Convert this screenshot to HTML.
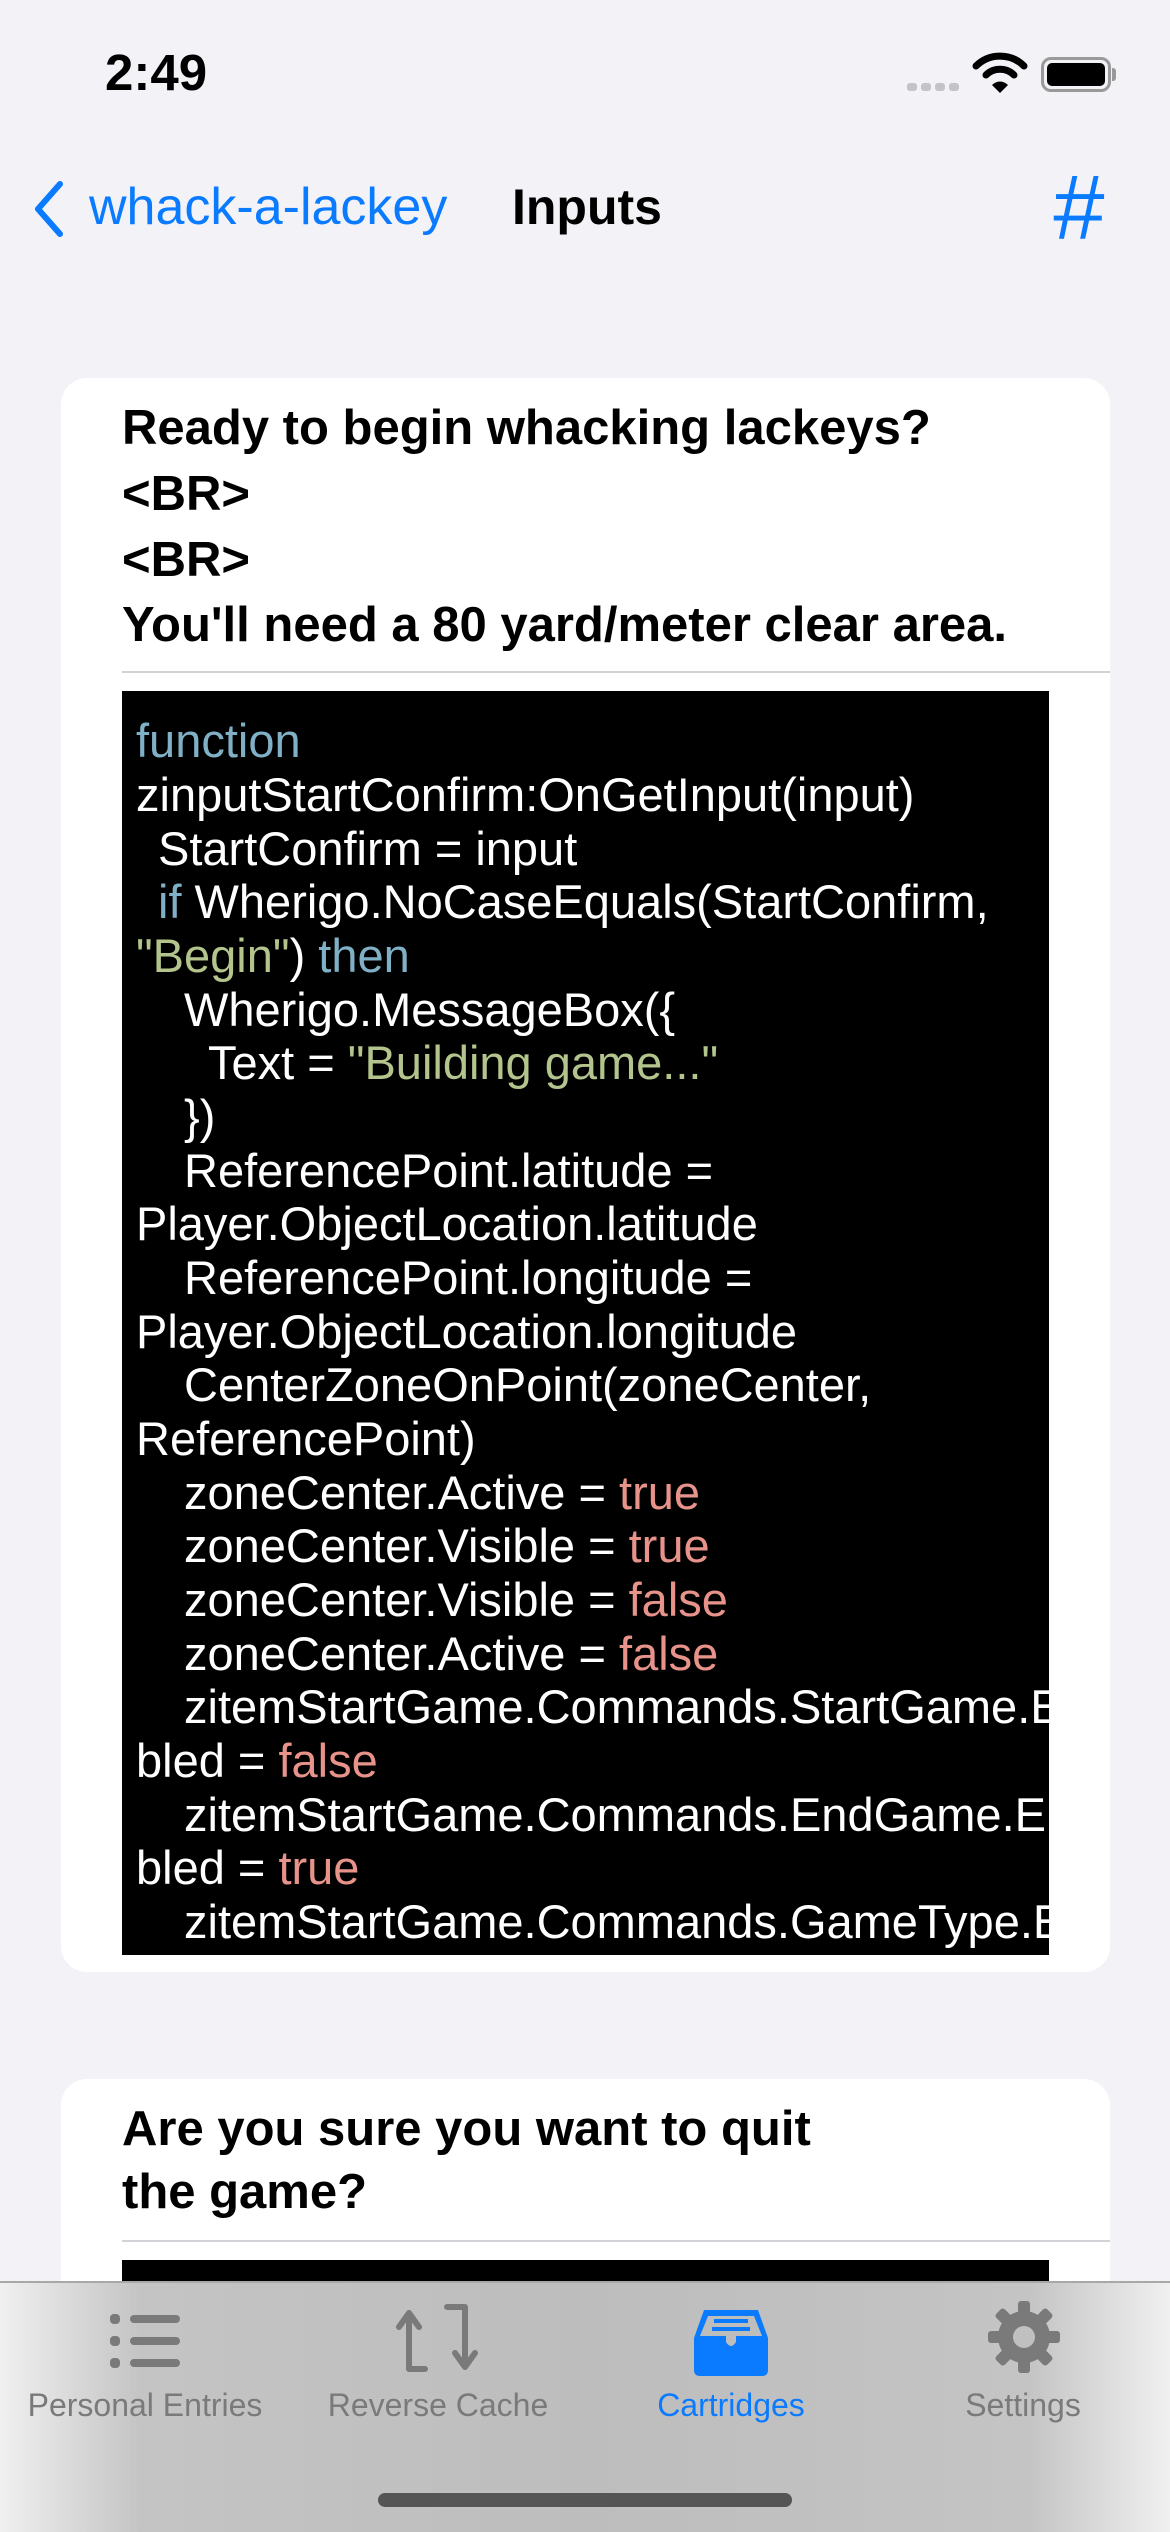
<!DOCTYPE html>
<html><head><meta charset="utf-8"><style>
*{margin:0;padding:0;box-sizing:border-box}
html{width:1170px;height:2532px;overflow:hidden}
body{width:1170px;height:2532px;background:#f2f2f7;position:relative;overflow:hidden;font-family:"Liberation Sans",sans-serif}
.a{position:absolute;white-space:nowrap}
.card{position:absolute;left:61px;width:1049px;background:#fff;border-radius:26px}
.t{position:absolute;left:122px;font-size:49px;font-weight:bold;color:#000;height:66px;line-height:66px;white-space:nowrap}
.code{position:absolute;left:122px;width:927px;background:#000;overflow:hidden}
.c{position:absolute;font-size:47px;color:#fff;height:54px;line-height:54px;white-space:nowrap}
.k{color:#7fb0c6}.s{color:#b3c48c}.b{color:#e8938a}
.tab{position:absolute;font-size:32px;color:#7a7a7a;text-align:center;width:300px;top:2385px;line-height:40px}
</style></head><body>
<div class="a" style="left:105px;top:45px;font-size:51px;font-weight:bold;line-height:56px">2:49</div>
<div class="a" style="left:907px;top:83px;width:10px;height:8px;background:#c4c4c8;border-radius:3px"></div>
<div class="a" style="left:921px;top:83px;width:10px;height:8px;background:#c4c4c8;border-radius:3px"></div>
<div class="a" style="left:935px;top:83px;width:10px;height:8px;background:#c4c4c8;border-radius:3px"></div>
<div class="a" style="left:949px;top:83px;width:10px;height:8px;background:#c4c4c8;border-radius:3px"></div>
<svg class="a" style="left:972px;top:52px" width="56" height="42" viewBox="0 0 56 42"><path d="M4 14 A34 34 0 0 1 52 14" stroke="#000" stroke-width="7" fill="none" stroke-linecap="round"/><path d="M14 23 A20 20 0 0 1 42 23" stroke="#000" stroke-width="7" fill="none" stroke-linecap="round"/><path d="M20 33 L28 41 L36 33 A11 11 0 0 0 20 33Z" fill="#000"/></svg>
<div class="a" style="left:1041px;top:57px;width:70px;height:35px;border:3px solid #999;border-radius:10px;padding:3px"><div style="width:100%;height:100%;background:#000;border-radius:5px"></div></div>
<div class="a" style="left:1112px;top:68px;width:4px;height:13px;background:#999;border-radius:0 3px 3px 0"></div>
<svg class="a" style="left:26px;top:178px" width="40" height="60"><path d="M34 6 L12 31 L34 56" stroke="#0a7aff" stroke-width="6" fill="none" stroke-linecap="round" stroke-linejoin="round"/></svg>
<div class="a" style="left:89px;top:180px;font-size:52px;color:#0a7aff;line-height:54px">whack-a-lackey</div>
<div class="a" style="left:512px;top:180px;font-size:50px;font-weight:bold;color:#000;line-height:54px">Inputs</div>
<div class="a" style="left:1052px;top:160px;font-size:92px;color:#0a7aff;line-height:96px;font-style:italic">#</div>

<div class="card" style="top:378px;height:1594px"></div>
<div class="t" style="top:395px">Ready to begin whacking lackeys?</div>
<div class="t" style="top:461px">&lt;BR&gt;</div>
<div class="t" style="top:527px">&lt;BR&gt;</div>
<div class="t" style="top:592px">You'll need a 80 yard/meter clear area.</div>
<div class="a" style="left:122px;top:671px;width:988px;height:2px;background:#d1d1d6"></div>
<div class="code" style="top:691px;height:1264px">
<div class="c" style="left:14px;top:23px"><span class="k">function</span></div>
<div class="c" style="left:14px;top:77px">zinputStartConfirm:OnGetInput(input)</div>
<div class="c" style="left:36px;top:131px">StartConfirm = input</div>
<div class="c" style="left:36px;top:184px"><span class="k">if</span> Wherigo.NoCaseEquals(StartConfirm,</div>
<div class="c" style="left:14px;top:238px"><span class="s">"Begin"</span>) <span class="k">then</span></div>
<div class="c" style="left:62px;top:292px">Wherigo.MessageBox({</div>
<div class="c" style="left:86px;top:345px">Text = <span class="s">"Building game..."</span></div>
<div class="c" style="left:62px;top:399px">})</div>
<div class="c" style="left:62px;top:453px">ReferencePoint.latitude =</div>
<div class="c" style="left:14px;top:506px">Player.ObjectLocation.latitude</div>
<div class="c" style="left:62px;top:560px">ReferencePoint.longitude =</div>
<div class="c" style="left:14px;top:614px">Player.ObjectLocation.longitude</div>
<div class="c" style="left:62px;top:667px">CenterZoneOnPoint(zoneCenter,</div>
<div class="c" style="left:14px;top:721px">ReferencePoint)</div>
<div class="c" style="left:62px;top:775px">zoneCenter.Active = <span class="b">true</span></div>
<div class="c" style="left:62px;top:828px">zoneCenter.Visible = <span class="b">true</span></div>
<div class="c" style="left:62px;top:882px">zoneCenter.Visible = <span class="b">false</span></div>
<div class="c" style="left:62px;top:936px">zoneCenter.Active = <span class="b">false</span></div>
<div class="c" style="left:62px;top:989px">zitemStartGame.Commands.StartGame.Ena</div>
<div class="c" style="left:14px;top:1043px">bled = <span class="b">false</span></div>
<div class="c" style="left:62px;top:1097px">zitemStartGame.Commands.EndGame.Ena</div>
<div class="c" style="left:14px;top:1150px">bled = <span class="b">true</span></div>
<div class="c" style="left:62px;top:1204px">zitemStartGame.Commands.GameType.En</div>
</div>

<div class="card" style="top:2079px;height:453px;border-radius:26px 26px 0 0"></div>
<div class="t" style="top:2096px">Are you sure you want to quit</div>
<div class="t" style="top:2159px">the game?</div>
<div class="a" style="left:122px;top:2240px;width:988px;height:2px;background:#d1d1d6"></div>
<div class="a" style="left:122px;top:2260px;width:927px;height:40px;background:#000"></div>

<div class="a" style="left:0;top:2281px;width:1170px;height:251px;background:linear-gradient(90deg,#f0f0f0 0%,#c4c4c4 12%,#bdbdbd 50%,#c4c4c4 88%,#f0f0f0 100%);border-top:2px solid #a8a8a8"></div>
<svg class="a" style="left:108px;top:2310px" width="76" height="60"><g fill="#7a7a7a"><rect x="2" y="4" width="10" height="10" rx="4"/><rect x="2" y="26" width="10" height="10" rx="4"/><rect x="2" y="48" width="10" height="10" rx="4"/><rect x="22" y="5" width="50" height="8" rx="4"/><rect x="22" y="27" width="50" height="8" rx="4"/><rect x="22" y="49" width="50" height="8" rx="4"/></g></svg>
<svg class="a" style="left:395px;top:2303px" width="90" height="74"><g stroke="#7a7a7a" stroke-width="6" fill="none" stroke-linecap="round" stroke-linejoin="round"><path d="M14 12 L14 66 L30 66"/><path d="M4 24 L14 10 L24 24"/><path d="M52 4 L70 4 L70 62"/><path d="M60 50 L70 64 L80 50"/></g></svg>
<svg class="a" style="left:690px;top:2306px" width="82" height="72"><path d="M14 4 L68 4 L78 32 L78 64 Q78 70 72 70 L10 70 Q4 70 4 64 L4 32 Z" fill="#0a7aff"/><path d="M10 30 L18 10 L64 10 L72 30 L46 30 L46 36 Q41 44 36 36 L36 30 Z" fill="#bdbdbd"/><rect x="24" y="13" width="34" height="4" fill="#0a7aff"/><rect x="22" y="21" width="38" height="4" fill="#0a7aff"/></svg>
<svg class="a" style="left:987px;top:2300px" width="74" height="74" viewBox="-37 -37 74 74"><g fill="#7a7a7a"><circle r="26"/><g id="tt"><rect x="-6" y="-36" width="12" height="16" rx="3"/></g><use href="#tt" transform="rotate(45)"/><use href="#tt" transform="rotate(90)"/><use href="#tt" transform="rotate(135)"/><use href="#tt" transform="rotate(180)"/><use href="#tt" transform="rotate(225)"/><use href="#tt" transform="rotate(270)"/><use href="#tt" transform="rotate(315)"/></g><circle r="11" fill="#c0c0c0"/></svg>
<div class="tab" style="left:-5px">Personal Entries</div>
<div class="tab" style="left:288px">Reverse Cache</div>
<div class="tab" style="left:581px;color:#0a7aff">Cartridges</div>
<div class="tab" style="left:873px">Settings</div>
<div class="a" style="left:378px;top:2493px;width:414px;height:14px;border-radius:7px;background:#555"></div>
</body></html>
